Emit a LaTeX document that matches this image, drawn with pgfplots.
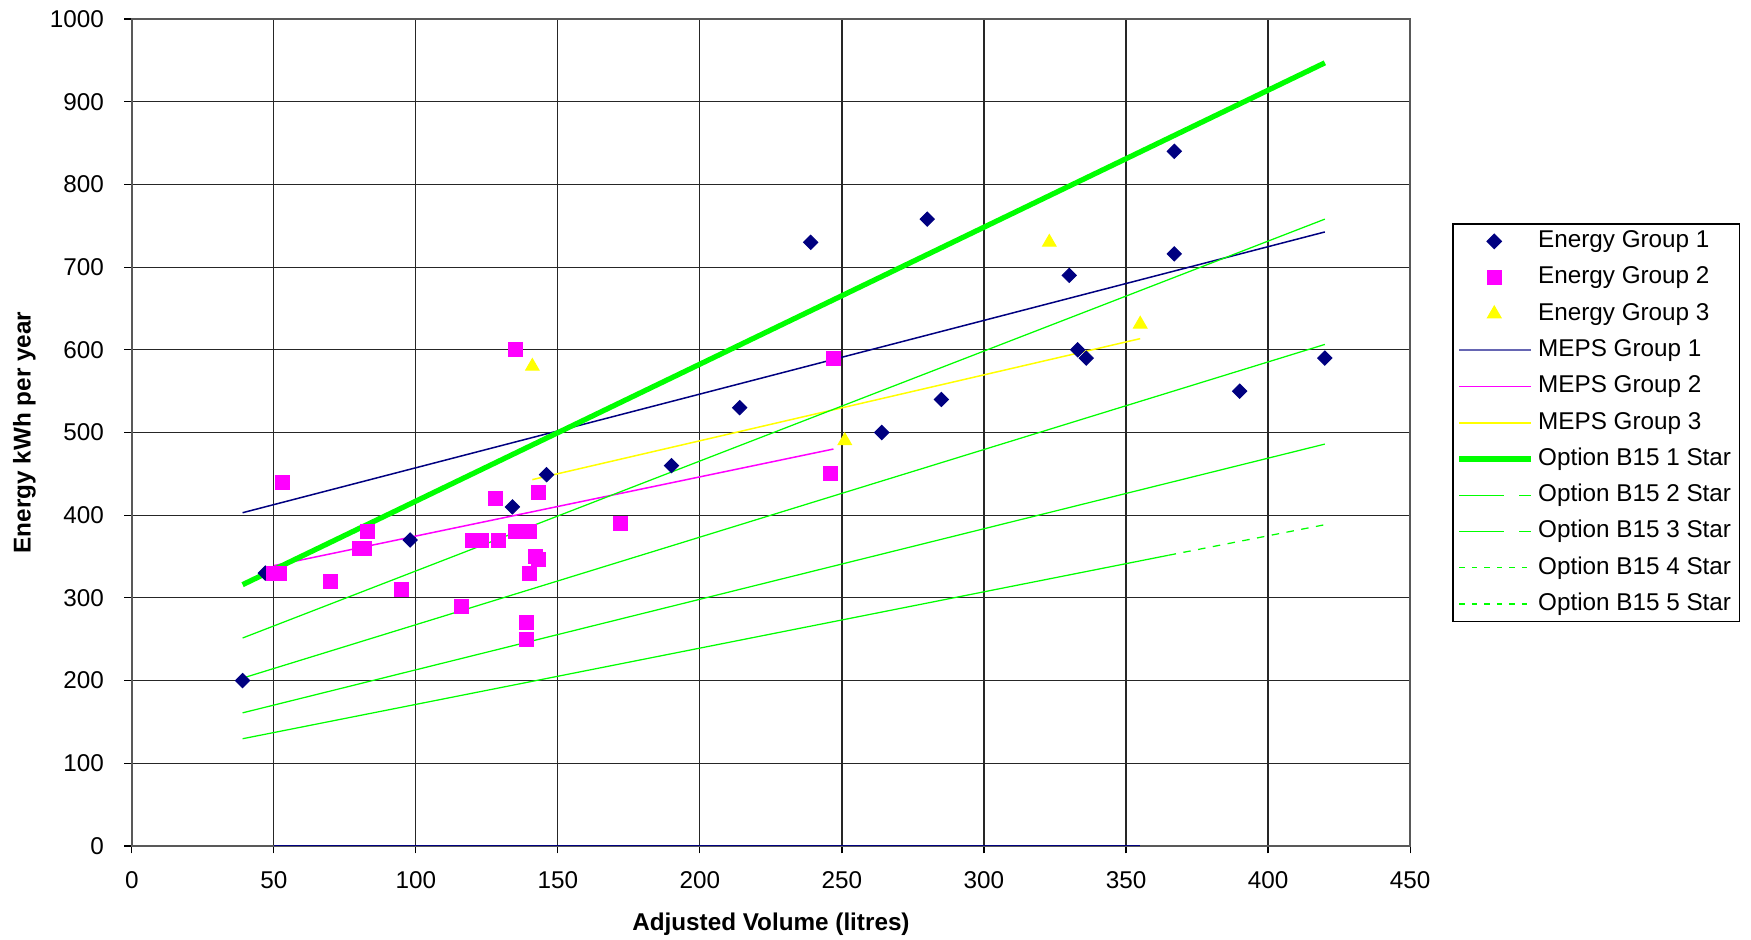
\documentclass[border=0pt]{standalone}
\usepackage{fontspec}
\setmainfont{Liberation Sans}
\usepackage{pgfplots}
\pgfplotsset{compat=1.18}
\definecolor{navyc}{RGB}{0,0,128}
\definecolor{magc}{RGB}{255,0,255}
\definecolor{yelc}{RGB}{255,255,0}
\definecolor{grnc}{RGB}{0,255,0}
\pgfplotsset{markleg/.style={legend image code/.code={\draw[##1] plot coordinates {(14pt,0pt)};}}}
\begin{document}
\begin{tikzpicture}
\useasboundingbox (0,0) rectangle (700pt,375.6pt);
\begin{axis}[
  at={(52.7pt,37.4pt)}, anchor=south west,
  scale only axis, width=511pt, height=330.6pt,
  xmin=0, xmax=450, ymin=0, ymax=1000,
  xtick={0,50,...,450}, ytick={0,100,...,1000},
  grid=major, major grid style={black!85, line width=0.45pt},
  tick align=outside, major tick length=3pt,
  tick style={black, line width=0.45pt},
  xtick pos=bottom, ytick pos=left,
  axis line style={gray!70!black, line width=0.7pt},
  /pgf/number format/assume math mode=true,
  /pgf/number format/1000 sep={},
  ticklabel style={font=\fontsize{9.7}{11}\selectfont, inner sep=0pt},
  xticklabel shift=7pt,
  yticklabel shift=8pt,
  xlabel={Adjusted Volume (litres)},
  ylabel={Energy kWh per year},
  xlabel style={at={(axis description cs:0.5,-0.0944)}, anchor=center, font=\fontsize{9.7}{11}\selectfont\bfseries},
  ylabel style={at={(axis description cs:-0.084,0.5)}, anchor=center, font=\fontsize{9.7}{11}\selectfont\bfseries},
  legend cell align=left,
  legend image code/.code={\draw[#1] (0pt,0pt) -- (28.5pt,0pt);},
  legend style={at={(1.033,0.753)}, anchor=north west, draw=black, line width=0.5pt,
    font=\fontsize{9.7}{11}\selectfont, inner xsep=1.5pt, inner ysep=2.5pt,
    row sep=5.5pt,
    nodes={text height=7pt, text depth=2pt, inner ysep=0pt, inner xsep=2pt}},
]
% MEPS lines
\addplot[navyc, line width=0.6pt, forget plot] coordinates {(39,403) (420,742.5)};
\addplot[magc, line width=0.6pt, forget plot] coordinates {(50,339) (247,480)};
\addplot[yelc, line width=0.6pt, forget plot] coordinates {(141,443) (355,613.5)};
\addplot[navyc, line width=0.6pt, forget plot] coordinates {(50,0) (355,0)};
% Option B15 lines
\addplot[grnc, line width=2.1pt, forget plot] coordinates {(39,316) (420,947)};
\addplot[grnc, line width=0.5pt, forget plot] coordinates {(39,251.5) (420,758)};
\addplot[grnc, line width=0.5pt, forget plot] coordinates {(39,203) (420,606.5)};
\addplot[grnc, line width=0.5pt, forget plot] coordinates {(39,161) (420,486)};
\addplot[grnc, line width=0.5pt, forget plot] coordinates {(39,129.7) (365,351.6)};
\addplot[grnc, line width=0.5pt, dash pattern=on 3pt off 3pt, forget plot] coordinates {(365,351.6) (420,388.5)};
% Energy points
\addplot[only marks, mark=square*, mark size=2.0pt, mark options={rotate=45, fill=navyc, draw=navyc}, forget plot] coordinates {
(39,200) (47,330) (98,370) (134,410) (146,449) (190,460) (214,530) (239,730) (264,500)
(280,758) (285,540) (330,690) (333,600) (336,590) (367,840) (367,716) (390,550) (420,590)};
\addplot[only marks, mark=square*, mark size=2.8pt, mark options={fill=magc, draw=magc}, forget plot] coordinates {
(50,330) (52,330) (53,440) (70,320) (80,360) (82,360) (83,380) (95,310) (116,290)
(120,370) (123,370) (128,420) (129,370) (135,380) (135,600) (140,380) (143,427)
(142,350) (143,347) (140,330) (139,270) (139,250) (172,390) (246,450) (247,590)};
\addplot[only marks, mark=triangle*, mark size=3.1pt, mark options={fill=yelc, draw=yelc}, forget plot] coordinates {
(141,580) (251,490) (323,730) (355,631)};
% Legend
\addlegendimage{only marks, mark=square*, mark size=2.0pt, mark options={rotate=45, fill=navyc, draw=navyc}, markleg}
\addlegendentry{Energy Group 1}
\addlegendimage{only marks, mark=square*, mark size=2.8pt, mark options={fill=magc, draw=magc}, markleg}
\addlegendentry{Energy Group 2}
\addlegendimage{only marks, mark=triangle*, mark size=3.1pt, mark options={fill=yelc, draw=yelc}, markleg}
\addlegendentry{Energy Group 3}
\addlegendimage{navyc!60, line width=0.6pt}
\addlegendentry{MEPS Group 1}
\addlegendimage{magc, line width=0.6pt}
\addlegendentry{MEPS Group 2}
\addlegendimage{yelc, line width=0.6pt}
\addlegendentry{MEPS Group 3}
\addlegendimage{grnc, line width=2.1pt}
\addlegendentry{Option B15 1 Star}
\addlegendimage{grnc, line width=0.5pt, dash pattern=on 18pt off 6pt on 5pt off 2pt}
\addlegendentry{Option B15 2 Star}
\addlegendimage{grnc, line width=0.5pt, dash pattern=on 18pt off 6pt on 5pt off 2pt}
\addlegendentry{Option B15 3 Star}
\addlegendimage{grnc, line width=0.5pt, dash pattern=on 2.2pt off 2.8pt}
\addlegendentry{Option B15 4 Star}
\addlegendimage{grnc, line width=0.5pt, dash pattern=on 2.2pt off 2.8pt}
\addlegendentry{Option B15 5 Star}
\end{axis}
\end{tikzpicture}
\end{document}
